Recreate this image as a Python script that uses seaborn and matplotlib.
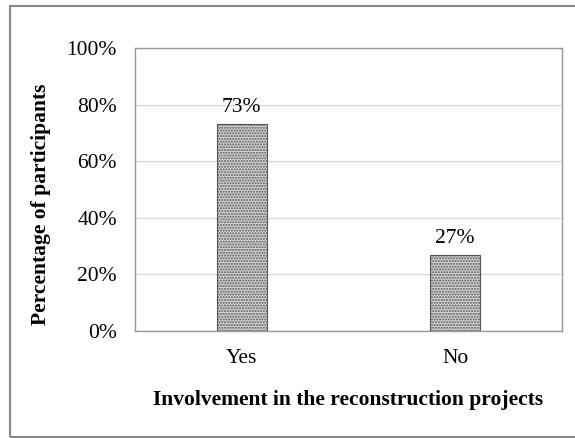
import matplotlib
matplotlib.use("Agg")
import matplotlib.pyplot as plt
import seaborn as sns
import pandas as pd
from matplotlib.patches import Rectangle
from matplotlib.ticker import PercentFormatter

categories = ["Yes", "No"]
percentages = [73, 27]
yticks = [0, 20, 40, 60, 80, 100]

sns.set_theme(style="white")
plt.rcParams["font.family"] = ["Liberation Serif", "DejaVu Serif"]
plt.rcParams["text.color"] = "black"
plt.rcParams["axes.labelcolor"] = "black"
plt.rcParams["hatch.linewidth"] = 1.0
plt.rcParams["hatch.color"] = "#222222"

df = pd.DataFrame({"answer": categories, "pct": percentages})

fig = plt.figure(figsize=(5.75, 4.38), dpi=100)
ax = fig.add_axes([135 / 575, 1 - 331 / 438, (562 - 135) / 575, (331 - 48) / 438])

sns.barplot(data=df, x="answer", y="pct", ax=ax, width=0.235,
            color="#d4d4d4", edgecolor="#555555", linewidth=0.8,
            hatch="......", saturation=1)

ax.set_ylim(0, 100)
ax.set_yticks(yticks)
ax.yaxis.set_major_formatter(PercentFormatter(decimals=0))
ax.grid(axis="y", color="#d9d9d9", linewidth=1)
ax.set_axisbelow(True)
for side in ax.spines.values():
    side.set_color("#999999")
    side.set_linewidth(1)
ax.tick_params(axis="both", labelsize=15.5, length=0, colors="black")
ax.tick_params(axis="y", pad=13)
ax.tick_params(axis="x", pad=13)

for patch, v in zip(ax.patches, percentages):
    ax.text(patch.get_x() + patch.get_width() / 2, v + 2.5, f"{v}%",
            ha="center", va="bottom", fontsize=15.5)

ax.set_xlabel("Involvement in the reconstruction projects", fontsize=15.5,
              fontweight="bold")
ax.xaxis.set_label_coords(0.5, -0.21)
ax.set_ylabel("Percentage of participants", fontsize=15.5, fontweight="bold")
ax.yaxis.set_label_coords(-0.197, 0.447)

fig.patches.append(Rectangle((10 / 575, 0.002), 1.0, 1 - 6 / 438 - 0.002,
                             transform=fig.transFigure, fill=False,
                             edgecolor="#888888", linewidth=1.5))

fig.savefig("out.png", dpi=100)
